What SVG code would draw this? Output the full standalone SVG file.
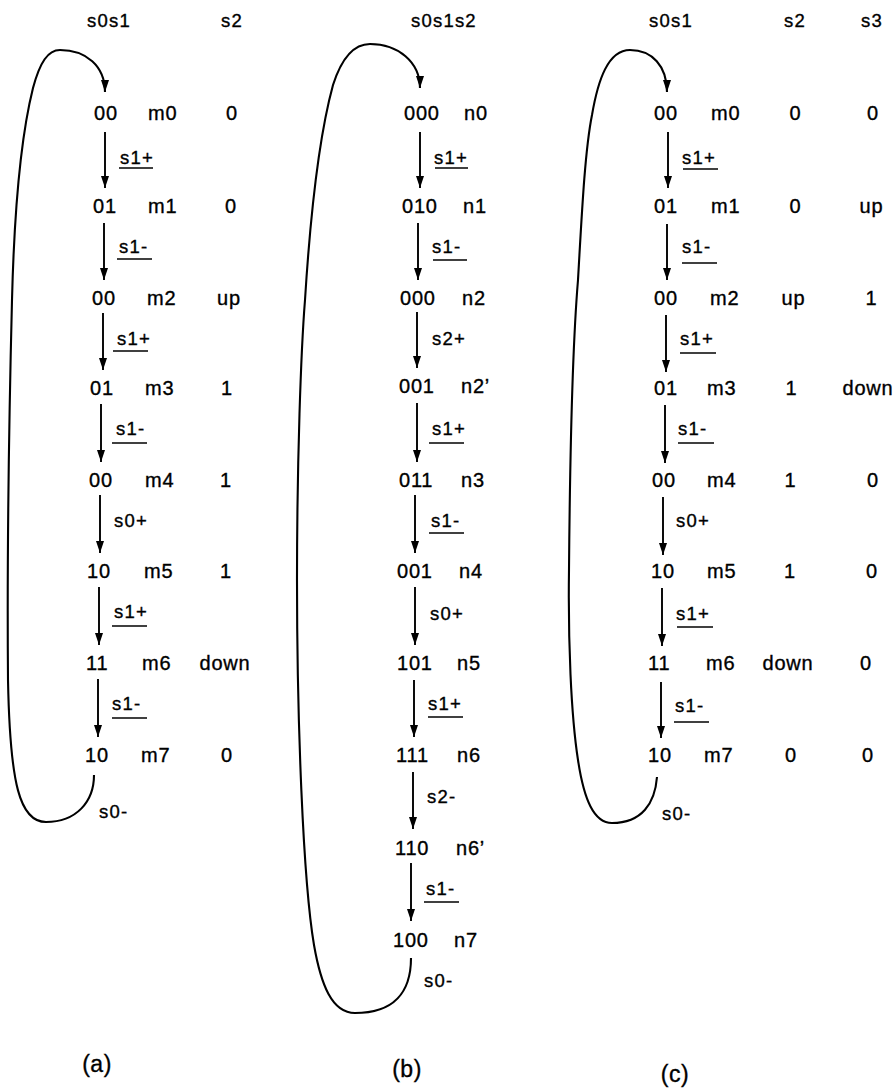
<svg xmlns="http://www.w3.org/2000/svg" width="894" height="1089" viewBox="0 0 894 1089">
<defs>
<marker id="ah" markerUnits="userSpaceOnUse" markerWidth="14" markerHeight="10" refX="12" refY="4" orient="auto">
<path d="M0,0 L12,4 L0,8 z" fill="#000"/>
</marker>
<style>
text{font-family:"Liberation Sans",Arial,sans-serif;fill:#000;stroke:#000;stroke-width:0.35}
.st{font-size:20px;letter-spacing:0.8px}
.lb,.hd{font-size:18.5px;letter-spacing:1.2px}
.cap{font-size:23px;letter-spacing:0.5px;text-anchor:middle}
.mid{text-anchor:middle}
.ar{stroke:#000;stroke-width:1.9;fill:none;marker-end:url(#ah)}
.ul{stroke:#000;stroke-width:1.7}
.lp{stroke:#000;stroke-width:2.1;fill:none}
</style>
</defs>
<rect width="894" height="1089" fill="#fff"/>

<g id="headers">
<text class="hd" x="87" y="27">s0s1</text>
<text class="hd" x="221" y="27">s2</text>
<text class="hd" x="411" y="27">s0s1s2</text>
<text class="hd" x="649" y="27">s0s1</text>
<text class="hd" x="784" y="27">s2</text>
<text class="hd" x="861" y="27">s3</text>
</g>

<!-- (a) nodes -->
<g id="a-m0" class="st"><text x="94" y="120">00</text><text x="148" y="120">m0</text><text class="mid" x="232" y="120">0</text></g>
<g id="a-m1" class="st"><text x="93" y="213">01</text><text x="148" y="213">m1</text><text class="mid" x="231" y="213">0</text></g>
<g id="a-m2" class="st"><text x="92" y="305">00</text><text x="147" y="305">m2</text><text class="mid" x="229" y="305">up</text></g>
<g id="a-m3" class="st"><text x="90" y="395">01</text><text x="145" y="395">m3</text><text class="mid" x="227" y="395">1</text></g>
<g id="a-m4" class="st"><text x="89" y="487">00</text><text x="145" y="487">m4</text><text class="mid" x="226" y="487">1</text></g>
<g id="a-m5" class="st"><text x="87" y="578">10</text><text x="144" y="578">m5</text><text class="mid" x="226" y="578">1</text></g>
<g id="a-m6" class="st"><text x="86" y="670">11</text><text x="142" y="670">m6</text><text class="mid" x="225" y="670">down</text></g>
<g id="a-m7" class="st"><text x="85" y="762">10</text><text x="141" y="762">m7</text><text class="mid" x="227" y="762">0</text></g>

<!-- (b) nodes -->
<g id="b-n0" class="st"><text x="404" y="120">000</text><text x="464" y="120">n0</text></g>
<g id="b-n1" class="st"><text x="402" y="213">010</text><text x="463" y="213">n1</text></g>
<g id="b-n2" class="st"><text x="400" y="305">000</text><text x="462" y="305">n2</text></g>
<g id="b-n2p" class="st"><text x="399" y="393">001</text><text x="461" y="393">n2’</text></g>
<g id="b-n3" class="st"><text x="399" y="487">011</text><text x="461" y="487">n3</text></g>
<g id="b-n4" class="st"><text x="397" y="578">001</text><text x="459" y="578">n4</text></g>
<g id="b-n5" class="st"><text x="397" y="670">101</text><text x="457" y="670">n5</text></g>
<g id="b-n6" class="st"><text x="396" y="762">111</text><text x="457" y="762">n6</text></g>
<g id="b-n6p" class="st"><text x="395" y="855">110</text><text x="456" y="855">n6’</text></g>
<g id="b-n7" class="st"><text x="393" y="947">100</text><text x="454" y="947">n7</text></g>

<!-- (c) nodes -->
<g id="c-m0" class="st"><text x="654" y="120">00</text><text x="711" y="120">m0</text><text class="mid" x="795.5" y="120">0</text><text class="mid" x="873" y="120">0</text></g>
<g id="c-m1" class="st"><text x="654" y="213">01</text><text x="711" y="213">m1</text><text class="mid" x="795.5" y="213">0</text><text class="mid" x="871.5" y="213">up</text></g>
<g id="c-m2" class="st"><text x="654" y="305">00</text><text x="710" y="305">m2</text><text class="mid" x="793.5" y="305">up</text><text class="mid" x="871.5" y="305">1</text></g>
<g id="c-m3" class="st"><text x="654" y="395">01</text><text x="707" y="395">m3</text><text class="mid" x="791.5" y="395">1</text><text class="mid" x="868" y="395">down</text></g>
<g id="c-m4" class="st"><text x="652" y="487">00</text><text x="707" y="487">m4</text><text class="mid" x="790.5" y="487">1</text><text class="mid" x="873" y="487">0</text></g>
<g id="c-m5" class="st"><text x="651" y="578">10</text><text x="707" y="578">m5</text><text class="mid" x="790" y="578">1</text><text class="mid" x="872" y="578">0</text></g>
<g id="c-m6" class="st"><text x="648" y="670">11</text><text x="706" y="670">m6</text><text class="mid" x="788" y="670">down</text><text class="mid" x="866" y="670">0</text></g>
<g id="c-m7" class="st"><text x="648" y="762">10</text><text x="704" y="762">m7</text><text class="mid" x="791" y="762">0</text><text class="mid" x="868" y="762">0</text></g>

<g id="connectors">
<!-- (a) -->
<line class="ar" x1="105" y1="132" x2="105" y2="188"/>
<line class="ar" x1="104" y1="223" x2="104" y2="280"/>
<line class="ar" x1="103" y1="313" x2="103" y2="370"/>
<line class="ar" x1="101" y1="404" x2="101" y2="462"/>
<line class="ar" x1="100" y1="495" x2="100" y2="553"/>
<line class="ar" x1="99" y1="587" x2="99" y2="645"/>
<line class="ar" x1="98" y1="679" x2="98" y2="737"/>
<path class="lp" marker-end="url(#ah)" d="M94,775 C94,802 76,822 46,822 C20,822 10,785 8,680 C7,560 9,420 12,300 C14,220 20,140 33,88 C40,62 48,50 60,50 C86,50 105,66 105,92"/>
<g class="lb">
<text x="120" y="164">s1+</text><line class="ul" x1="119" y1="168" x2="153" y2="168"/>
<text x="119" y="253">s1-</text><line class="ul" x1="117" y1="259" x2="152" y2="259"/>
<text x="117" y="345">s1+</text><line class="ul" x1="113" y1="351" x2="148" y2="351"/>
<text x="116" y="435">s1-</text><line class="ul" x1="112" y1="443" x2="147" y2="443"/>
<text x="114" y="527">s0+</text>
<text x="114" y="618">s1+</text><line class="ul" x1="112" y1="626" x2="147" y2="626"/>
<text x="112" y="710">s1-</text><line class="ul" x1="112" y1="718" x2="147" y2="718"/>
<text x="99" y="818">s0-</text>
</g>

<!-- (b) -->
<line class="ar" x1="420" y1="132" x2="420" y2="188"/>
<line class="ar" x1="418" y1="223" x2="418" y2="280"/>
<line class="ar" x1="417" y1="312" x2="417" y2="368"/>
<line class="ar" x1="417" y1="403" x2="417" y2="462"/>
<line class="ar" x1="415" y1="495" x2="415" y2="553"/>
<line class="ar" x1="415" y1="587" x2="415" y2="645"/>
<line class="ar" x1="414" y1="680" x2="414" y2="737"/>
<line class="ar" x1="413" y1="772" x2="413" y2="829"/>
<line class="ar" x1="411" y1="863" x2="411" y2="921"/>
<path class="lp" marker-end="url(#ah)" d="M411,958 C411,992 394,1013 355,1013 C332,1013 321,985 314,945 C303,880 297,720 297,580 C297,460 301,350 305,300 C310,220 318,140 333,85 C341,60 352,44 370,44 C398,44 420,62 420,88"/>
<g class="lb">
<text x="434" y="164">s1+</text><line class="ul" x1="435" y1="168" x2="468" y2="168"/>
<text x="432" y="253">s1-</text><line class="ul" x1="433" y1="260" x2="467" y2="260"/>
<text x="432" y="345">s2+</text>
<text x="432" y="435">s1+</text><line class="ul" x1="429" y1="443" x2="464" y2="443"/>
<text x="431" y="527">s1-</text><line class="ul" x1="429" y1="533" x2="464" y2="533"/>
<text x="430" y="620">s0+</text>
<text x="428" y="710">s1+</text><line class="ul" x1="428" y1="717" x2="463" y2="717"/>
<text x="427" y="803">s2-</text>
<text x="426" y="895">s1-</text><line class="ul" x1="424" y1="902" x2="459" y2="902"/>
<text x="424" y="987">s0-</text>
</g>

<!-- (c) -->
<line class="ar" x1="668" y1="132" x2="668" y2="188"/>
<line class="ar" x1="667" y1="224" x2="667" y2="280"/>
<line class="ar" x1="666" y1="315" x2="666" y2="372"/>
<line class="ar" x1="665" y1="405" x2="665" y2="463"/>
<line class="ar" x1="663" y1="497" x2="663" y2="555"/>
<line class="ar" x1="662" y1="588" x2="662" y2="646"/>
<line class="ar" x1="661" y1="682" x2="661" y2="738"/>
<path class="lp" marker-end="url(#ah)" d="M657,777 C655,803 642,823 612,823 C594,823 584,800 578,760 C571,715 568,640 569,570 C570,450 573,340 578,280 C582,210 585,150 592,115 C598,80 608,50 630,50 C652,50 667,66 667,92"/>
<g class="lb">
<text x="682" y="164">s1+</text><line class="ul" x1="683" y1="169" x2="718" y2="169"/>
<text x="682" y="253">s1-</text><line class="ul" x1="682" y1="263" x2="717" y2="263"/>
<text x="680" y="345">s1+</text><line class="ul" x1="680" y1="353" x2="716" y2="353"/>
<text x="678" y="435">s1-</text><line class="ul" x1="678" y1="443" x2="714" y2="443"/>
<text x="676" y="527">s0+</text>
<text x="676" y="620">s1+</text><line class="ul" x1="677" y1="627" x2="713" y2="627"/>
<text x="675" y="712">s1-</text><line class="ul" x1="674" y1="722" x2="709" y2="722"/>
<text x="662" y="820">s0-</text>
</g>
</g>

<g id="captions">
<text class="cap" x="97" y="1072">(a)</text>
<text class="cap" x="407" y="1077">(b)</text>
<text class="cap" x="675" y="1082">(c)</text>
</g>
</svg>
